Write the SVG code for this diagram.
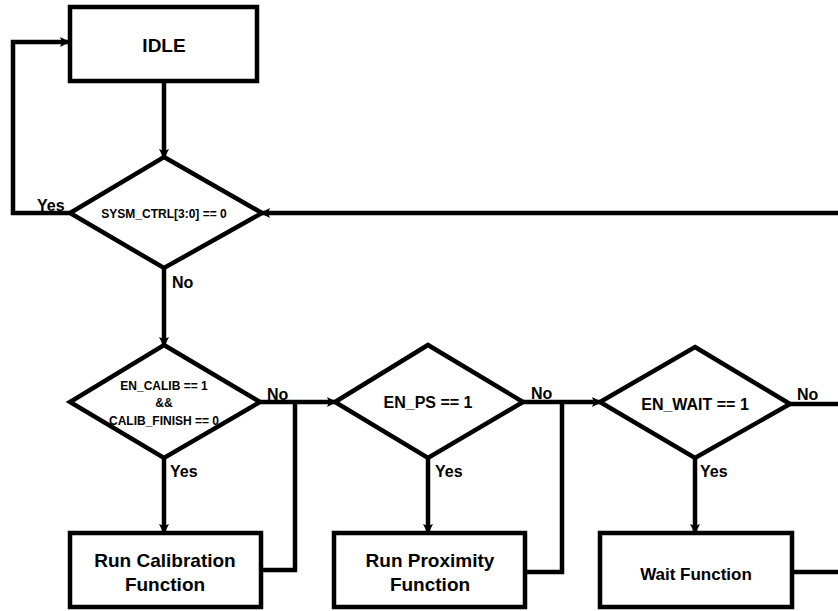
<svg xmlns="http://www.w3.org/2000/svg" width="838" height="611" viewBox="0 0 838 611">
<style>
.shape{fill:#fff;stroke:#000;stroke-width:4.5;stroke-linejoin:miter}
.wire{fill:none;stroke:#000;stroke-width:4.5;stroke-linejoin:miter}
text{font-family:"Liberation Sans",Arial,sans-serif;font-weight:bold;fill:#000;text-anchor:middle}
.lbl{font-size:16px;text-anchor:start}
.box{font-size:19px}
</style>
<defs>
<marker id="ah" viewBox="0 0 10 10" refX="9" refY="5" markerWidth="10" markerHeight="10" markerUnits="userSpaceOnUse" orient="auto">
<path d="M1,0 L9,4 L9,6 L1,10 L3,5 z" fill="#000"/>
</marker>
</defs>
<g id="connectors">
<path class="wire" d="M164,82 V157" marker-end="url(#ah)"/>
<path class="wire" d="M70,213 H13 V42 H68" marker-end="url(#ah)"/>
<path class="wire" d="M838,213 H262" marker-end="url(#ah)"/>
<path class="wire" d="M164,268 V345" marker-end="url(#ah)"/>
<path class="wire" d="M260,402 H335" marker-end="url(#ah)"/>
<path class="wire" d="M164,458 V532" marker-end="url(#ah)"/>
<path class="wire" d="M262,570 H295 V402"/>
<path class="wire" d="M523,402 H600" marker-end="url(#ah)"/>
<path class="wire" d="M428,458 V532" marker-end="url(#ah)"/>
<path class="wire" d="M525,572 H562 V402"/>
<path class="wire" d="M790,404 H838"/>
<path class="wire" d="M695,458 V532" marker-end="url(#ah)"/>
<path class="wire" d="M792,572 H838"/>
<text class="lbl" x="37" y="211">Yes</text>
<text class="lbl" x="172" y="288">No</text>
<text class="lbl" x="267" y="400">No</text>
<text class="lbl" x="170" y="477">Yes</text>
<text class="lbl" x="531" y="399">No</text>
<text class="lbl" x="435" y="477">Yes</text>
<text class="lbl" x="797" y="400">No</text>
<text class="lbl" x="700" y="477">Yes</text>
</g>
<g id="idle">
<rect class="shape" x="70" y="7" width="187" height="74"/>
<text class="box" x="164" y="52">IDLE</text>
</g>
<g id="sysm">
<polygon class="shape" points="164,157 262,213 164,268 70,213"/>
<text x="164" y="218" font-size="12">SYSM_CTRL[3:0] == 0</text>
</g>
<g id="calib_check">
<polygon class="shape" points="164,345 260,402 164,458 70,402"/>
<text x="164" y="390" font-size="12">EN_CALIB == 1</text>
<text x="164" y="407" font-size="12">&amp;&amp;</text>
<text x="164" y="425" font-size="12">CALIB_FINISH == 0</text>
</g>
<g id="ps_check">
<polygon class="shape" points="428,345 523,402 428,458 335,402"/>
<text x="428" y="408" font-size="16">EN_PS == 1</text>
</g>
<g id="wait_check">
<polygon class="shape" points="695,347 790,404 695,458 600,402"/>
<text x="695" y="410" font-size="16">EN_WAIT == 1</text>
</g>
<g id="run_calib">
<rect class="shape" x="70" y="533" width="191" height="74"/>
<text class="box" x="165" y="567">Run Calibration</text>
<text class="box" x="165" y="591">Function</text>
</g>
<g id="run_prox">
<rect class="shape" x="334" y="533" width="191" height="74"/>
<text class="box" x="430" y="567">Run Proximity</text>
<text class="box" x="430" y="591">Function</text>
</g>
<g id="wait_fn">
<rect class="shape" x="600" y="533" width="192" height="74"/>
<text x="696" y="580" font-size="17">Wait Function</text>
</g>
</svg>
